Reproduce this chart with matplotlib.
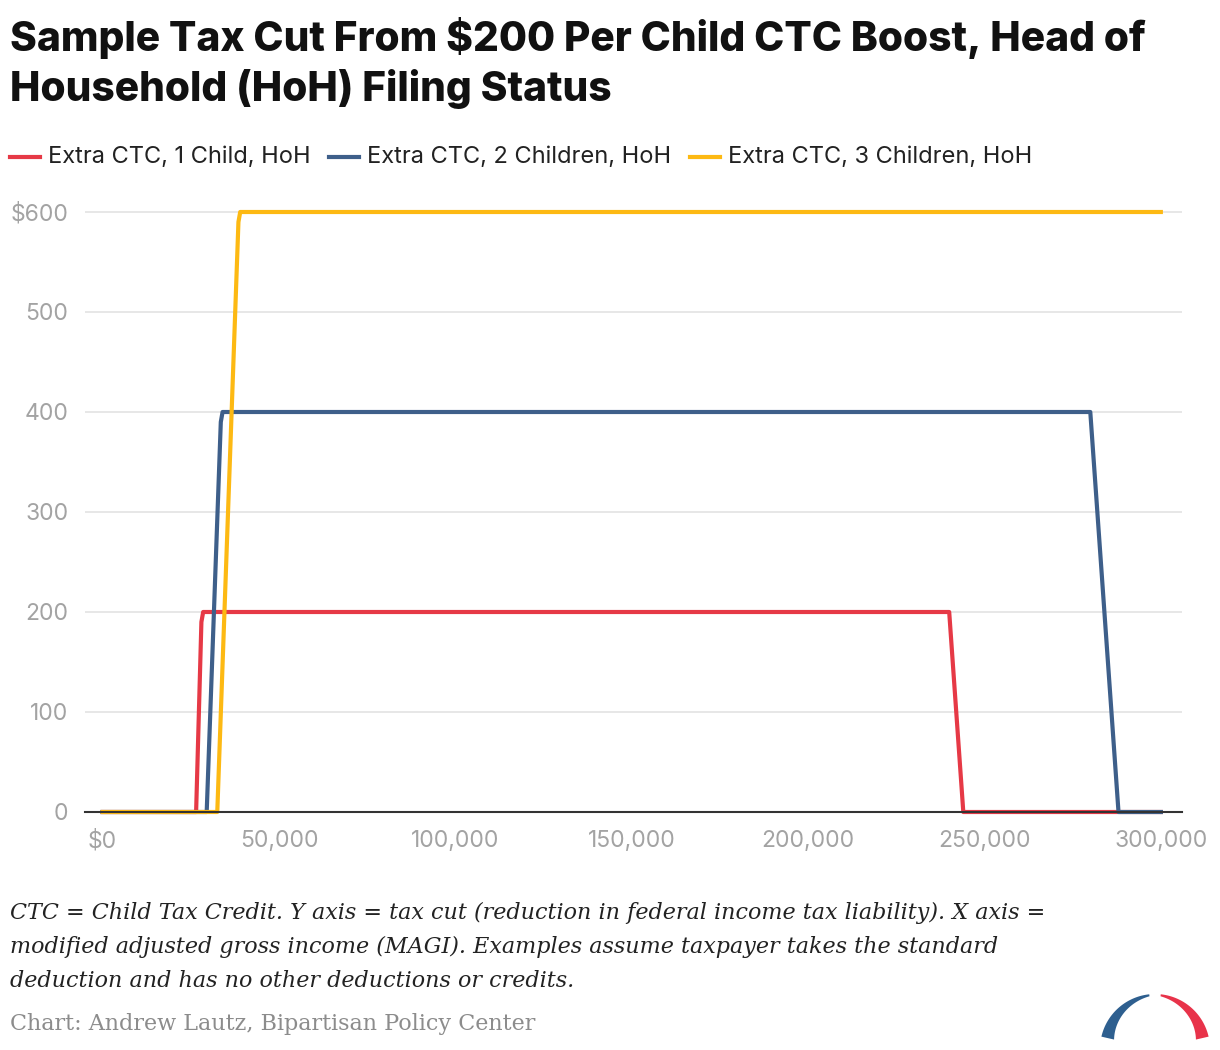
import numpy as np
import matplotlib.pyplot as plt
from matplotlib.patches import Polygon

# income (MAGI) breakpoints and tax cut values
inc_1 = [0, 26500, 28000, 28500, 240000, 244000, 300000]
cut_1 = [0, 0, 190, 200, 200, 0, 0]
inc_2 = [0, 29500, 33500, 34000, 280000, 288000, 300000]
cut_2 = [0, 0, 390, 400, 400, 0, 0]
inc_3 = [0, 32500, 38500, 39000, 300000]
cut_3 = [0, 0, 590, 600, 600]

labels = ['Extra CTC, 1 Child, HoH', 'Extra CTC, 2 Children, HoH', 'Extra CTC, 3 Children, HoH']
colors = ['#e63946', '#3e5f8a', '#fdb913']

x_ticks = [0, 50000, 100000, 150000, 200000, 250000, 300000]
x_ticklabels = ['$0', '50,000', '100,000', '150,000', '200,000', '250,000', '300,000']
y_ticks = [0, 100, 200, 300, 400, 500, 600]
y_ticklabels = ['0', '100', '200', '300', '400', '500', '$600']

plt.rcParams['font.family'] = ['Inter', 'DejaVu Sans']

fig = plt.figure(figsize=(12.2, 10.5), dpi=100)
W, H = 1220, 1050
ax = fig.add_axes([85 / W, (H - 812) / H, (1182 - 85) / W, 603 / H])

for xs, ys, lab, c in zip([inc_1, inc_2, inc_3], [cut_1, cut_2, cut_3], labels, colors):
    ax.plot(xs, ys, color=c, lw=3, label=lab, clip_on=False, zorder=3,
            solid_joinstyle='round')

ax.set_xlim(-5000, 306000)
ax.set_ylim(0, 603)
ax.set_xticks(x_ticks)
ax.set_xticklabels(x_ticklabels)
ax.set_yticks(y_ticks)
ax.set_yticklabels(y_ticklabels)
ax.tick_params(axis='both', length=0, labelsize=16.5, labelcolor='#a3a3a3')
ax.tick_params(axis='x', pad=13)
ax.tick_params(axis='y', pad=12)
ax.grid(axis='y', color='#e3e3e3', lw=1.2)
ax.set_axisbelow(True)
for s in ['top', 'right', 'left']:
    ax.spines[s].set_visible(False)
ax.spines['bottom'].set_color('#333333')
ax.spines['bottom'].set_linewidth(1.5)
ax.spines['bottom'].set_zorder(4)

fig.text(10 / W, 1 - 38 / H, 'Sample Tax Cut From $200 Per Child CTC Boost, Head of',
         fontsize=29.3, fontweight='heavy', va='center', ha='left', color='#111111')
fig.text(10 / W, 1 - 89 / H, 'Household (HoH) Filing Status',
         fontsize=29.3, fontweight='heavy', va='center', ha='left', color='#111111')

# legend
leg_x = [10, 329, 690]
for lx, lab, c in zip(leg_x, labels, colors):
    fig.add_artist(plt.Line2D([lx / W, (lx + 30) / W], [1 - 157 / H, 1 - 157 / H],
                              color=c, lw=3, transform=fig.transFigure))
    fig.text((lx + 38) / W, 1 - 157 / H, lab, fontsize=17, va='center', ha='left',
             color='#222222')

note_lines = ['CTC = Child Tax Credit. Y axis = tax cut (reduction in federal income tax liability). X axis =',
              'modified adjusted gross income (MAGI). Examples assume taxpayer takes the standard',
              'deduction and has no other deductions or credits.']
for i, ln in enumerate(note_lines):
    fig.text(10 / W, 1 - (913 + 34 * i) / H, ln, fontsize=16,
             family=['DejaVu Serif'], style='italic', va='center', ha='left',
             color='#222222')
fig.text(10 / W, 1 - 1024 / H, 'Chart: Andrew Lautz, Bipartisan Policy Center',
         fontsize=16, family=['DejaVu Serif'], va='center', ha='left', color='#8c8c8c')

# logo (arched bridge)
lax = fig.add_axes([1095 / W, 0, 120 / W, 60 / H])
lax.set_xlim(1095, 1215)
lax.set_ylim(0, 60)
lax.axis('off')


def arch(t0, t1, w0, w1, color):
    t = np.radians(np.linspace(t0, t1, 60))
    w = np.linspace(w0, w1, 60)
    cx, cy, r = 1155, 1, 55
    outer = np.c_[cx + r * np.cos(t), cy + r * np.sin(t)]
    inner = np.c_[cx + (r - w) * np.cos(t), cy + (r - w) * np.sin(t)][::-1]
    lax.add_patch(Polygon(np.r_[outer, inner], closed=True, color=color, lw=0))


arch(96, 167, 2, 13, '#2e5f8f')
arch(84, 13, 2, 13, '#e8334a')

plt.savefig('out.png', dpi=100)
